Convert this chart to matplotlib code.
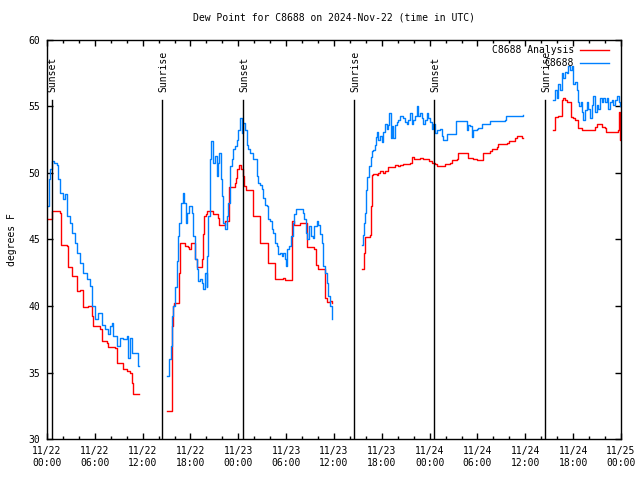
import numpy as np
import matplotlib
matplotlib.use("Agg")
import matplotlib.pyplot as plt

# hours since 2024-11-22 00:00 UTC, NaN marks a gap in the record
obs_hours = [
    0.0, 0.2, 0.4, 0.59, 0.9, 1.21, 1.42, 1.63, 2.05, 2.3, 2.47, 2.89, 3.09, 3.51, 3.72,
    4.14, 4.56, 4.98, 5.4, 5.6, 6.02, 6.2, 6.44, 6.86, 7.28, 7.7, 7.9, 8.11, 8.32, 8.74,
    9.16, 9.58, 10.0, 10.2, 10.41, 10.62, 11.04, 11.46, 11.54, np.nan,
    15.1, 15.35, 15.52, 15.68, 15.85, 16.06, 16.27, 16.48, 16.6, 16.77, 17.02, 17.19, 17.44,
    17.61, 17.86, 18.15, 18.36, 18.57, 18.78, 18.99, 19.2, 19.41, 19.62, 19.82, 20.03, 20.12,
    20.24, 20.45, 20.62, 20.79, 21.08, 21.29, 21.5, 21.62, 21.79, 21.96, 22.13, 22.33, 22.54,
    22.75, 22.96, 23.17, 23.38, 23.59, 23.8, 24.0, 24.21, 24.42, 24.63, 24.84, 25.05, 25.26,
    25.47, 25.68, 25.89, 26.1, 26.31, 26.52, 26.73, 26.93, 27.14, 27.35, 27.56, 27.77, 27.98,
    28.19, 28.4, 28.61, 28.82, 29.03, 29.24, 29.44, 29.65, 29.86, 29.99, 30.16, 30.41, 30.57,
    30.82, 30.99, 31.24, 31.53, 31.74, 32.08, 32.25, 32.5, 32.66, 32.91, 33.08, 33.33, 33.5,
    33.84, 34.05, 34.25, 34.46, 34.67, 34.88, 35.09, 35.3, 35.51, 35.72, np.nan,
    39.48, 39.69, 39.77, 39.9, 40.03, 40.19, 40.44, 40.61, 40.78, 40.94, 41.15, 41.28, 41.45,
    41.57, 41.78, 41.99, 42.2, 42.41, 42.61, 42.82, 42.95, 43.12, 43.28, 43.45, 43.66, 43.87,
    44.08, 44.29, 44.5, 44.71, 44.91, 45.12, 45.33, 45.54, 45.75, 45.96, 46.17, 46.38, 46.59,
    46.8, 47.01, 47.21, 47.42, 47.63, 47.84, 48.05, 48.26, 48.47, 48.68, 48.89, 49.31, 49.51,
    49.72, 50.14, 51.19, 51.32, 52.45, 52.66, 52.87, 53.08, 53.28, 53.49, 53.91, 54.12, 54.54,
    55.38, 55.59, 57.47, 57.6, 59.68, np.nan,
    63.53, 63.74, 63.95, 64.16, 64.36, 64.57, 64.78, 64.99, 65.2, 65.41, 65.62, 65.83, 66.04,
    66.24, 66.45, 66.58, 66.79, 66.96, 67.08, 67.29, 67.5, 67.71, 67.92, 68.13, 68.34, 68.55,
    68.76, 68.97, 69.17, 69.38, 69.59, 69.8, 70.01, 70.22, 70.43, 70.64, 70.85, 71.06, 71.27,
    71.48, 71.69, 71.9, 72.0,
]
obs_dewpt = [
    47.5, 49.5, 50.3, 50.9, 50.7, 50.6, 49.5, 48.5, 48.0, 48.4, 46.75, 46.25, 45.5, 44.75, 44.0,
    43.25, 42.5, 42.0, 41.5, 40.0, 39.0, 39.0, 39.5, 38.6, 38.25, 37.9, 38.5, 38.75, 37.75, 37.0,
    37.6, 37.5, 37.75, 36.1, 37.6, 36.5, 36.5, 35.5, 35.5, np.nan,
    34.75, 36.0, 37.0, 39.25, 40.0, 41.4, 43.4, 45.25, 46.25, 47.75, 48.5, 47.75, 46.25,
    47.0, 47.5, 47.0, 45.25, 43.5, 42.75, 41.9, 42.0, 41.75, 41.25, 42.5, 41.4, 43.75,
    46.75, 51.0, 52.4, 50.75, 51.25, 49.75, 50.75, 51.5, 49.5, 48.25, 46.25, 45.75, 46.75,
    47.75, 50.5, 51.0, 51.75, 52.0, 52.5, 53.25, 54.1, 53.0, 53.75, 53.25, 52.1, 51.75,
    51.5, 51.5, 51.0, 51.0, 49.75, 49.25, 49.1, 48.75, 48.1, 47.6, 47.5, 46.5, 46.4,
    45.75, 45.5, 44.75, 44.5, 43.9, 44.0, 43.75, 44.0, 43.5, 43.0, 44.25, 44.5, 45.25,
    46.25, 46.9, 47.25, 47.3, 47.25, 47.0, 46.5, 45.5, 45.0, 46.0, 45.25, 45.1, 46.0,
    46.4, 46.1, 45.4, 44.75, 43.0, 42.5, 41.75, 40.75, 40.0, 39.0, np.nan,
    44.6, 45.3, 46.2, 47.0, 48.7, 49.7, 50.5, 51.2, 51.6, 51.7, 52.1, 52.7, 53.1,
    52.5, 52.8, 52.3, 53.1, 53.7, 53.3, 53.6, 54.5, 52.6, 53.5, 52.6, 53.6, 53.8,
    54.0, 54.3, 54.3, 54.1, 53.8, 53.7, 54.0, 54.5, 53.7, 54.0, 54.3, 55.0, 54.3,
    54.5, 54.1, 53.7, 54.0, 54.5, 54.1, 53.8, 53.3, 53.7, 53.0, 53.2, 53.3, 52.8,
    52.5, 52.9, 52.9, 53.9, 53.9, 53.2, 53.6, 53.5, 52.7, 53.2, 53.3, 53.4, 53.7,
    53.7, 53.9, 54.0, 54.3, 54.35, np.nan,
    55.5, 56.2, 55.6, 56.7, 56.2, 57.5, 57.1, 57.6, 57.5, 58.0, 57.7, 58.0, 56.7,
    56.8, 56.2, 55.3, 55.0, 55.3, 54.6, 54.0, 54.7, 55.3, 54.8, 54.1, 55.1, 55.8,
    54.6, 55.1, 54.8, 55.6, 55.3, 55.6, 55.3, 55.6, 54.8, 55.3, 55.5, 55.1, 55.5,
    55.8, 55.3, 55.0, 55.0,
]

ana_hours = [
    0.0, 0.59, 1.63, 1.7, 1.75, 2.47, 2.68, 3.09, 3.51, 3.72, 4.14, 4.47, 4.56, 5.19, 5.6,
    5.81, 6.65, 6.86, 7.49, 7.7, 8.53, 8.74, 9.37, 9.58, 10.0, 10.41, 10.7, 10.83, 11.54, np.nan,
    15.1, 15.64, 15.77, 15.94, 16.6, 16.69, 17.1, 17.32, 17.74, 17.86, 18.03, 18.57, 18.78,
    19.41, 19.54, 19.7, 19.95, 20.03, 20.79, 21.5, 21.62, 22.33, 22.88, 23.59, 23.72, 23.88,
    24.13, 24.3, 24.55, 24.71, 24.96, 25.8, 26.73, 27.77, 28.61, 29.65, 29.86, 30.7, 31.03,
    31.74, 32.66, 33.5, 33.71, 34.05, 34.84, 35.09, 35.5, 35.72, np.nan,
    39.48, 39.77, 39.9, 40.53, 40.65, 40.78, 40.94, 41.36, 41.57, 41.78, 42.11, 42.41, 42.82,
    43.45, 43.66, 44.08, 44.29, 44.71, 45.54, 45.75, 46.05, 46.47, 46.8, 47.13, 47.63, 47.97,
    48.26, 48.68, 48.89, 49.72, 49.93, 50.56, 50.77, 51.4, 51.61, 52.45, 52.87, 53.49, 53.91,
    54.54, 54.75, 55.59, 55.8, 56.42, 56.63, 57.68, 57.89, 58.31, 58.72, 58.93, 59.56, 59.68, np.nan,
    63.53, 63.74, 64.16, 64.57, 64.78, 64.99, 65.2, 65.62, 65.75, 66.04, 66.24, 66.45, 66.58,
    67.08, 67.71, 67.92, 68.55, 68.76, 68.97, 69.17, 69.38, 69.59, 70.01, 70.14, 71.48, 71.6,
    71.69, 71.82, 71.9, 72.0,
]
ana_dewpt = [
    46.5, 47.1, 47.0, 45.75, 44.6, 44.5, 42.9, 42.25, 42.25, 41.1, 41.2, 40.6, 39.9, 40.0, 39.25,
    38.5, 38.25, 37.4, 37.2, 36.9, 36.85, 35.75, 35.75, 35.25, 35.1, 35.0, 34.25, 33.4, 33.4, np.nan,
    32.1, 38.5, 40.0, 40.25, 42.5, 44.75, 44.75, 44.5, 44.4, 44.3, 44.75, 43.5, 42.9,
    43.5, 45.4, 46.75, 46.9, 47.1, 46.9, 46.6, 46.1, 46.4, 48.9, 49.25, 49.6, 50.25,
    50.6, 50.25, 49.75, 49.0, 48.7, 46.75, 44.75, 43.25, 42.0, 42.1, 41.95, 46.4, 46.1,
    46.25, 44.4, 44.3, 43.1, 42.75, 40.6, 40.3, 40.4, 40.25, np.nan,
    42.8, 44.0, 45.2, 45.3, 47.5, 49.8, 49.9, 49.85, 50.0, 50.15, 50.0, 50.15, 50.4,
    50.45, 50.6, 50.5, 50.6, 50.65, 50.7, 51.2, 51.0, 51.0, 51.1, 51.0, 51.0, 50.9,
    50.75, 50.65, 50.5, 50.5, 50.65, 50.75, 50.95, 51.0, 51.5, 51.5, 51.1, 51.0, 50.95,
    50.95, 51.5, 51.6, 51.75, 51.95, 52.15, 52.25, 52.35, 52.4, 52.65, 52.75, 52.65, 52.65, np.nan,
    53.2, 54.2, 54.25, 55.45, 55.6, 55.45, 55.35, 55.35, 54.2, 54.1, 53.95, 53.95, 53.35,
    53.2, 53.25, 53.2, 53.25, 53.45, 53.65, 53.7, 53.7, 53.45, 53.35, 53.1, 53.1, 53.2,
    54.6, 53.35, 52.5, 52.5,
]

sun_names = ["Sunset", "Sunrise", "Sunset", "Sunrise", "Sunset", "Sunrise"]
sun_hours = [0.59, 14.45, 24.63, 38.56, 48.6, 62.52]

tick_hours = list(range(0, 73, 6))
tick_labels = ["11/22\n00:00", "11/22\n06:00", "11/22\n12:00", "11/22\n18:00",
               "11/23\n00:00", "11/23\n06:00", "11/23\n12:00", "11/23\n18:00",
               "11/24\n00:00", "11/24\n06:00", "11/24\n12:00", "11/24\n18:00",
               "11/25\n00:00"]

plt.rcParams["font.family"] = ["DejaVu Sans Mono"]
plt.rcParams["font.size"] = 7

fig = plt.figure(figsize=(6.4, 4.8), dpi=100)
ax = fig.add_axes([0.0734, 0.0844, 0.8969, 0.8333])

ax.plot(ana_hours, ana_dewpt, color="#ff0000", lw=1.0, drawstyle="steps-post",
        label="C8688 Analysis")
ax.plot(obs_hours, obs_dewpt, color="#0080ff", lw=1.0, drawstyle="steps-post",
        label="C8688")

for name, h in zip(sun_names, sun_hours):
    ax.plot([h, h], [30, 55.45], color="black", lw=1.0)
    ax.text(h + 0.1, 56.1, name, rotation=90, ha="center", va="bottom", fontsize=7)

ax.set_xlim(0, 72)
ax.set_ylim(30, 60)
ax.set_xticks(tick_hours)
ax.set_xticklabels(tick_labels)
ax.set_xticks(range(0, 73, 2), minor=True)
ax.set_yticks(range(30, 61, 5))
ax.tick_params(direction="in", top=True, right=True, length=4, width=1, pad=5)
ax.tick_params(which="minor", direction="in", top=True, right=True, length=2.5, width=1)
for sp in ax.spines.values():
    sp.set_linewidth(1.0)

ax.set_ylabel("degrees F", labelpad=8)
ax.set_title("Dew Point for C8688 on 2024-Nov-22 (time in UTC)", fontsize=7, pad=14)

ax.legend(loc="upper right", bbox_to_anchor=(0.986, 0.995), frameon=False,
          markerfirst=False, handlelength=3.0, borderaxespad=0.0, labelspacing=0.3,
          handletextpad=0.6, fontsize=7)

fig.savefig("out.png", dpi=100)
